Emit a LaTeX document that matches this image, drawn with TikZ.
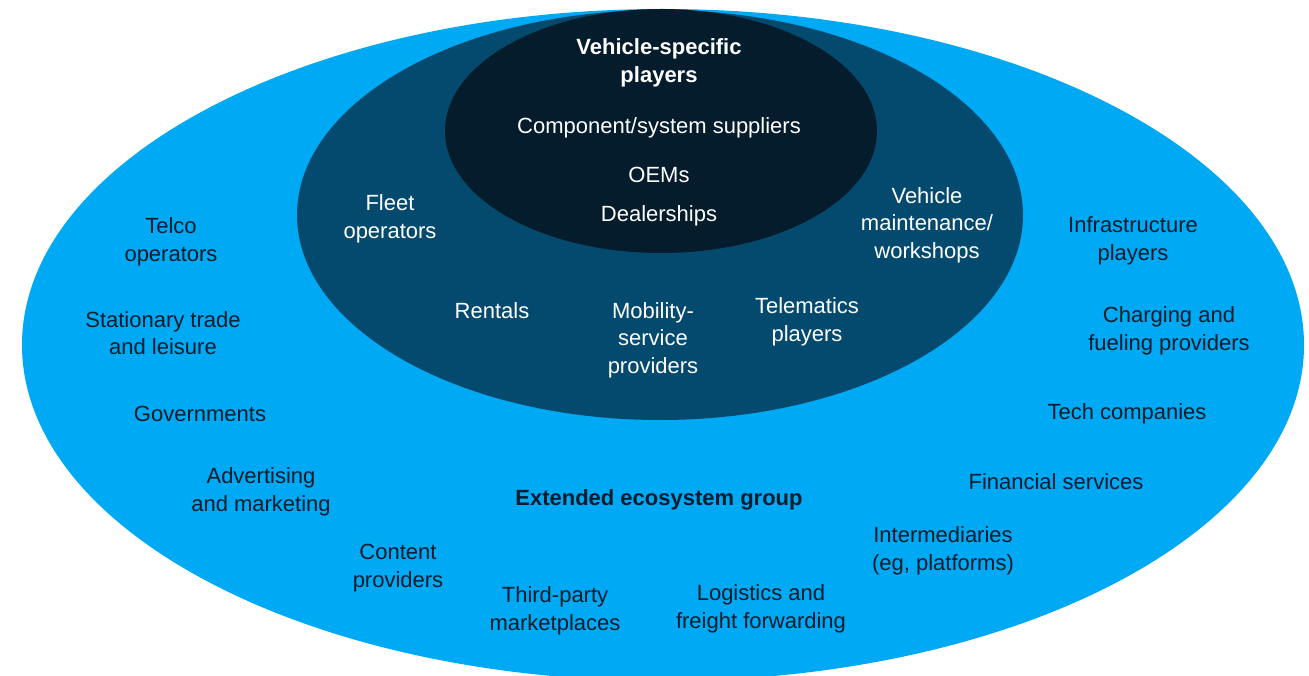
\documentclass[tikz,border=0pt]{standalone}
\usepackage{fontspec}
\setmainfont{Liberation Sans}
\definecolor{outerblue}{RGB}{0,169,244}
\definecolor{midblue}{RGB}{4,74,110}
\definecolor{innerblue}{RGB}{5,28,44}
\definecolor{navy}{RGB}{5,28,44}
\begin{document}
\begin{tikzpicture}[x=1pt,y=-1pt,
  lbl/.style={align=center, font=\fontsize{22}{27.5}\selectfont, inner sep=0pt, yshift=-3pt},
  dk/.style={lbl, text=navy},
  wt/.style={lbl, text=white},
  bf/.style={font=\fontsize{22}{27.5}\selectfont\bfseries}]
\useasboundingbox (0,0) rectangle (1309,676);
% ellipses
\fill[outerblue] (663,345) ellipse [x radius=641pt, y radius=336pt];
\fill[midblue] (660,215) ellipse [x radius=363pt, y radius=205pt];
\fill[innerblue] (661,131) ellipse [x radius=216pt, y radius=122pt];
% inner labels
\node[wt,bf] (vsp) at (659,60) {Vehicle-specific\\players};
\node[wt] (comp) at (659,125) {Component/system suppliers};
\node[wt] (oem) at (659,172) {OEMs};
\node[wt] (deal) at (659,213) {Dealerships};
% middle labels
\node[wt] (fleet) at (390,216) {Fleet\\operators};
\node[wt] (maint) at (927,222) {Vehicle\\maintenance/\\workshops};
\node[wt] (rent) at (492,308) {Rentals};
\node[wt] (mob) at (653,337) {Mobility-\\service\\providers};
\node[wt] (tele) at (807,319) {Telematics\\players};
% outer labels
\node[dk] (telco) at (171,239) {Telco\\operators};
\node[dk] (infra) at (1133,238) {Infrastructure\\players};
\node[dk] (stat) at (163,330) {Stationary trade\\and leisure};
\node[dk] (charge) at (1169,328) {Charging and\\fueling providers};
\node[dk] (gov) at (200,411) {Governments};
\node[dk] (tech) at (1127,411) {Tech companies};
\node[dk] (adv) at (261,489) {Advertising\\and marketing};
\node[dk,bf] (ext) at (659,497) {Extended ecosystem group};
\node[dk] (fin) at (1056,479) {Financial services};
\node[dk] (cont) at (398,565) {Content\\providers};
\node[dk] (inter) at (943,548) {Intermediaries\\(eg, platforms)};
\node[dk] (third) at (555,608) {Third-party\\marketplaces};
\node[dk] (logi) at (761,606) {Logistics and\\freight forwarding};
\end{tikzpicture}
\end{document}
